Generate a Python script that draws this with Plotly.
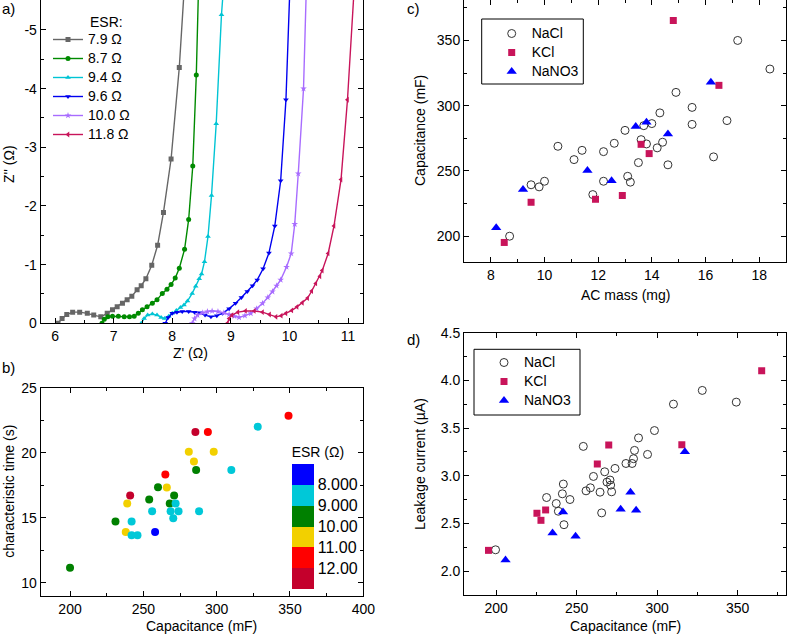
import plotly.graph_objects as go

W, H = 787, 637
FONT = "Liberation Sans, Arial, sans-serif"

# ---------------- Panel a: Nyquist plots ----------------
esr_names = ["7.9 Ω", "8.7 Ω", "9.4 Ω", "9.6 Ω", "10.0 Ω", "11.8 Ω"]

zre_79 = [6.05, 6.12, 6.20, 6.30, 6.42, 6.55, 6.66, 6.78, 6.89, 6.98, 7.06, 7.15, 7.23, 7.31, 7.40, 7.47, 7.55, 7.65, 7.75, 7.85, 7.98, 8.12, 8.21]
zim_79 = [0.0, -0.08, -0.15, -0.19, -0.19, -0.17, -0.14, -0.11, -0.17, -0.23, -0.28, -0.34, -0.40, -0.46, -0.57, -0.64, -0.76, -0.99, -1.33, -1.89, -2.80, -4.36, -5.8]

zre_87 = [6.80, 6.84, 6.90, 6.98, 7.08, 7.18, 7.27, 7.35, 7.42, 7.49, 7.57, 7.66, 7.74, 7.83, 7.91, 7.98, 8.05, 8.12, 8.21, 8.28, 8.35, 8.41, 8.45]
zim_87 = [0.0, -0.07, -0.11, -0.12, -0.12, -0.11, -0.11, -0.12, -0.17, -0.23, -0.28, -0.34, -0.40, -0.51, -0.58, -0.66, -0.77, -0.94, -1.26, -1.77, -2.68, -4.23, -5.8]

zre_94 = [7.47, 7.52, 7.58, 7.66, 7.74, 7.81, 7.87, 7.94, 8.00, 8.07, 8.14, 8.20, 8.26, 8.34, 8.40, 8.46, 8.50, 8.55, 8.61, 8.67, 8.75, 8.84, 8.88]
zim_94 = [0.0, -0.08, -0.14, -0.16, -0.14, -0.10, -0.08, -0.12, -0.17, -0.22, -0.27, -0.31, -0.38, -0.51, -0.63, -0.76, -0.84, -1.05, -1.48, -2.18, -3.40, -5.26, -5.8]

zre_96 = [7.88, 7.93, 8.00, 8.08, 8.17, 8.28, 8.38, 8.47, 8.56, 8.66, 8.76, 8.86, 8.97, 9.08, 9.18, 9.28, 9.37, 9.45, 9.55, 9.65, 9.75, 9.85, 9.94, 10.01]
zim_96 = [0.0, -0.10, -0.17, -0.19, -0.20, -0.20, -0.19, -0.18, -0.14, -0.11, -0.13, -0.17, -0.25, -0.34, -0.44, -0.54, -0.64, -0.74, -0.93, -1.20, -1.66, -2.43, -3.81, -5.8]

zre_100 = [8.34, 8.38, 8.43, 8.52, 8.60, 8.68, 8.78, 8.88, 8.97, 9.06, 9.14, 9.24, 9.34, 9.44, 9.54, 9.63, 9.71, 9.78, 9.85, 9.95, 10.03, 10.09, 10.15, 10.24, 10.29]
zim_100 = [0.0, -0.08, -0.14, -0.18, -0.20, -0.21, -0.20, -0.18, -0.15, -0.12, -0.10, -0.13, -0.17, -0.25, -0.34, -0.44, -0.54, -0.64, -0.74, -0.96, -1.19, -1.69, -2.55, -4.00, -5.8]

zre_118 = [8.94, 8.97, 9.02, 9.12, 9.25, 9.40, 9.54, 9.66, 9.77, 9.86, 9.94, 10.04, 10.13, 10.22, 10.31, 10.38, 10.45, 10.52, 10.56, 10.66, 10.76, 10.88, 10.99, 11.11]
zim_118 = [0.0, -0.08, -0.14, -0.19, -0.21, -0.21, -0.19, -0.15, -0.11, -0.13, -0.17, -0.22, -0.28, -0.35, -0.43, -0.55, -0.68, -0.80, -0.90, -1.19, -1.66, -2.45, -3.81, -5.8]

a_yticks = [0, -1, -2, -3, -4, -5]
a_yticktext = ["0", "-1", "-2", "-3", "-4", "-5"]

# ---------------- Panel b: characteristic time vs capacitance ----------------
b_cap = [200, 231, 238, 239, 241, 242, 242, 246, 256, 254, 258, 260, 265, 266, 268,
         268.6, 271, 272, 270.4, 274, 285.5, 281, 284.5, 286, 288, 294, 298, 310, 328, 349]
b_tau = [11.15, 14.7, 13.9, 16.1, 16.7, 14.7, 13.65, 13.65, 15.5, 16.4, 13.9, 17.35, 18.33, 17.33, 16.1,
         15.5, 16.7, 16.1, 14.96, 15.5, 21.6, 20.07, 19.33, 18.66, 15.5, 21.6, 20.07, 18.66, 22.0, 22.84]
b_esr = [9.5, 9.5, 10.5, 10.5, 12.5, 8.5, 8.5, 8.5, 8.5, 9.5, 7.5, 9.5, 11.5, 10.5, 9.5,
         8.5, 9.5, 8.5, 8.5, 8.5, 12.5, 10.5, 10.5, 9.5, 8.5, 11.5, 10.5, 8.5, 8.5, 11.5]
esr_tickvals = [8, 9, 10, 11, 12]
esr_ticktext = ["8.000", "9.000", "10.00", "11.00", "12.00"]
esr_band_colors = ["#0000ff", "#00c8d8", "#008000", "#f2d000", "#ff0000", "#c4002c"]

# ---------------- Panel c: capacitance vs AC mass ----------------
nacl_mass = [8.7, 9.5, 9.8, 10.0, 10.5, 11.1, 11.4, 11.8, 12.2, 12.2, 12.6, 13.0, 13.1, 13.2, 13.5,
             13.6, 13.7, 13.8, 14.0, 14.2, 14.3, 14.4, 14.6, 14.9, 15.5, 15.5, 16.3, 16.8, 17.2, 18.4]
nacl_cap_c = [200, 239.4, 237.8, 242.1, 268.9, 258.7, 265.8, 231.9, 264.8, 242.1, 271.2, 281.1, 245.9, 241.4, 256.4,
              274.0, 284.7, 270.7, 286.3, 267.7, 294.5, 272.0, 254.7, 310.2, 298.7, 285.7, 260.8, 288.6, 350, 328.1]
kcl_mass = [8.5, 9.5, 11.9, 12.9, 13.6, 13.9, 14.8, 16.5]
kcl_cap_c = [195.2, 226.0, 228.3, 231.2, 270.4, 263.3, 365.3, 315.6]
nano3_mass = [8.2, 9.2, 11.6, 12.5, 13.4, 13.8, 14.6, 16.2]
nano3_cap_c = [206.5, 235.8, 250.3, 242.4, 284.0, 287.3, 278.4, 317.9]

# ---------------- Panel d: leakage current vs capacitance ----------------
nacl_cap_d = [199.6, 231.3, 237.3, 238.6, 241.1, 241.7, 242.1, 245.8, 254.1, 255.8, 258.5, 260.4, 264.5, 265.5, 267.4,
              268.8, 270.7, 271.1, 271.7, 273.8, 280.6, 284.4, 285.3, 285.9, 288.4, 294.0, 298.3, 310.1, 328.0, 349.1]
nacl_leak = [2.224, 2.772, 2.709, 2.628, 2.811, 2.913, 2.487, 2.751, 3.308, 2.842, 2.874, 2.993, 2.828, 2.611, 3.042,
             2.934, 2.955, 2.902, 2.832, 3.077, 3.129, 3.129, 3.179, 3.266, 3.397, 3.224, 3.474, 3.751, 3.895, 3.772]
kcl_cap_d = [195.2, 225.3, 227.8, 230.7, 262.8, 269.9, 315.3, 364.9]
kcl_leak = [2.218, 2.607, 2.533, 2.642, 3.123, 3.323, 3.326, 4.102]
nano3_cap_d = [205.8, 235.0, 241.5, 249.3, 277.3, 283.4, 286.9, 317.2]
nano3_leak = [2.116, 2.40, 2.621, 2.365, 2.649, 2.828, 2.639, 3.253]

salt_names = ["NaCl", "KCl", "NaNO3"]


def fx(p):
    return p / W


def fy(p):
    return 1 - p / H


fig = go.Figure()

# ---- panel a traces
curve_x = [zre_79, zre_87, zre_94, zre_96, zre_100, zre_118]
curve_y = [zim_79, zim_87, zim_94, zim_96, zim_100, zim_118]
curve_colors = ["#666666", "#008a00", "#00c4d4", "#0000f0", "#a86cff", "#c8145a"]
curve_symbols = ["square", "circle", "triangle-up", "triangle-down", "star", "triangle-left"]
for xs, ys, name, col, sym in zip(curve_x, curve_y, esr_names, curve_colors, curve_symbols):
    fig.add_trace(go.Scatter(x=xs, y=ys, name="<span style='font-size:14px'>" + name + "</span>",
                             mode="lines+markers",
                             line=dict(color=col, width=1.4),
                             marker=dict(symbol=sym, size=5, color=col, line=dict(width=0)),
                             xaxis="x", yaxis="y", legend="legend"))

# ---- panel b
n = len(esr_band_colors)
cscale = []
for i, c in enumerate(reversed(esr_band_colors)):
    cscale.append([i / n, c])
    cscale.append([(i + 1) / n, c])
fig.add_trace(go.Scatter(
    x=b_cap, y=b_tau, mode="markers", showlegend=False, xaxis="x2", yaxis="y2",
    marker=dict(size=8, color=[-v for v in b_esr], cmin=-13, cmax=-7, colorscale=cscale,
                line=dict(width=0), showscale=True,
                colorbar=dict(thickness=22, thicknessmode="pixels", len=146, lenmode="pixels",
                              x=fx(291.7), xanchor="left", y=fy(589), yanchor="bottom",
                              xpad=0, ypad=0, outlinewidth=0,
                              tickvals=[-v for v in esr_tickvals], ticktext=esr_ticktext,
                              ticks="", tickfont=dict(size=16, color="black", family=FONT),
                              title=dict(text="ESR (Ω)", side="top", font=dict(size=14, color="black", family=FONT))))))

# ---- panels c and d
salt_style = [
    dict(symbol="circle-open", size=8, color="#333333", line=dict(width=1, color="#333333")),
    dict(symbol="square", size=7, color="#c8145a", line=dict(width=0)),
    dict(symbol="triangle-up", size=9, color="#0000ff", line=dict(width=0)),
]
c_data = [(nacl_mass, nacl_cap_c), (kcl_mass, kcl_cap_c), (nano3_mass, nano3_cap_c)]
d_data = [(nacl_cap_d, nacl_leak), (kcl_cap_d, kcl_leak), (nano3_cap_d, nano3_leak)]
for (xs, ys), name, st in zip(c_data, salt_names, salt_style):
    fig.add_trace(go.Scatter(x=xs, y=ys, name="<span style='font-size:14px'>" + name + "</span>",
                             mode="markers", marker=st, xaxis="x3", yaxis="y3", legend="legend2"))
for (xs, ys), name, st in zip(d_data, salt_names, salt_style):
    fig.add_trace(go.Scatter(x=xs, y=ys, name="<span style='font-size:14px'>" + name + "</span>",
                             mode="markers", marker=st, xaxis="x4", yaxis="y4", legend="legend3"))


def ax(domain, rng, dtick, minor_dtick, mirror="allticks", anchor=None, **kw):
    d = dict(domain=domain, range=rng, dtick=dtick, showline=True, linecolor="black", linewidth=1,
             mirror=mirror, ticks="inside", ticklen=5, tickwidth=1, tickcolor="black",
             showgrid=False, zeroline=False, automargin=False,
             minor=dict(ticks="inside", ticklen=3, tickcolor="black", dtick=minor_dtick, showgrid=False),
             tickfont=dict(size=14, color="black", family=FONT), anchor=anchor)
    d.update(kw)
    return d


xa_dom = [fx(40.7), fx(363.3)]
xc_dom = [fx(464), fx(786)]

legend_common = dict(xanchor="left", yanchor="top", bgcolor="rgba(0,0,0,0)", borderwidth=0,
                     font=dict(size=11, family=FONT, color="black"), itemwidth=30, tracegroupgap=0)

fig.update_layout(
    template="none",
    width=W, height=H, margin=dict(l=0, r=0, t=0, b=0, autoexpand=False),
    paper_bgcolor="white", plot_bgcolor="white",
    font=dict(family=FONT, size=14, color="black"),
    xaxis=ax(xa_dom, [5.755, 11.26], 1, 0.5, mirror=False, anchor="y", tick0=6),
    yaxis=ax([fy(323.3), 1], [0, -5.51], None, 0.5, anchor="x",
             tickmode="array", tickvals=a_yticks, ticktext=a_yticktext),
    xaxis2=ax(xa_dom, [180, 400], 50, 25, anchor="y2"),
    yaxis2=ax([fy(595.7), fy(387.7)], [9, 25], 5, 2.5, anchor="x2"),
    xaxis3=ax(xc_dom, [7, 19], 2, 1, anchor="y3"),
    yaxis3=ax([fy(262.3), 1], [180, 381], 50, 25, anchor="x3"),
    xaxis4=ax(xc_dom, [180, 380], 50, 25, anchor="y4"),
    yaxis4=ax([fy(595), fy(332.7)], [1.75, 4.5], 0.5, 0.25, anchor="x4", tickformat=".1f"),
    legend=dict(x=fx(48), y=fy(25), **legend_common),
    legend2=dict(x=fx(481.7), y=fy(19), indentation=10, **legend_common),
    legend3=dict(x=fx(474), y=fy(348), indentation=10, **legend_common),
)

# legend frames for c and d
for x0, y0, x1, y1 in [(481.7, 19, 583.3, 84), (474, 349.3, 580, 415)]:
    fig.add_shape(type="rect", xref="paper", yref="paper", x0=fx(x0), x1=fx(x1), y0=fy(y1), y1=fy(y0),
                  line=dict(color="black", width=1), fillcolor="white", layer="above")

annos = [("a)", 0, 9, 0), ("b)", 0, 367, 0), ("c)", 405, 9, 0), ("d)", 405, 339, 0),
         ("ESR:", 88, 22, 0),
         ("Z' (Ω)", 190.7, 353, 0), ("Z'' (Ω)", 9, 164, -90),
         ("Capacitance (mF)", 202, 626, 0), ("characteristic time (s)", 9, 491.7, -90),
         ("AC mass (mg)", 625, 295, 0), ("Capacitance (mF)", 420, 131, -90),
         ("Capacitance (mF)", 625, 626, 0), ("Leakage current (µA)", 420, 464, -90)]
for t, x, y, ang in annos:
    xa = "left" if (len(t) == 2 or t == "ESR:") else "center"
    fig.add_annotation(text=t, x=fx(x), y=fy(y), xref="paper", yref="paper", xanchor=xa,
                       yanchor="middle", showarrow=False, textangle=ang,
                       font=dict(size=15 if len(t) == 2 else 14, color="black", family=FONT))

fig.write_html("out.html", config={"displayModeBar": False},
               post_script="document.body.style.margin='0';")
